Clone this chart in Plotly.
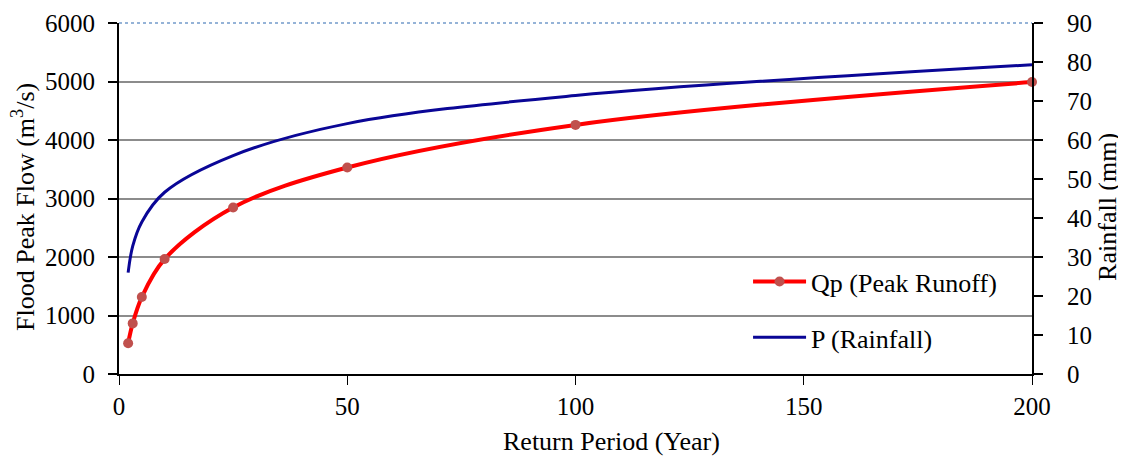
import plotly.graph_objects as go

return_period = [2, 3, 5, 10, 25, 50, 100, 200]
qp_peak_runoff = [525, 865, 1315, 1965, 2845, 3530, 4258, 4990]
p_rainfall = [26.0, 32.8, 39.0, 46.6, 56.0, 64.2, 71.4, 79.3]

qp_name = "Qp (Peak Runoff)"
p_name = "P (Rainfall)"
x_title = "Return Period (Year)"
y_title = "Flood Peak Flow (m<sup>3</sup>/s)"
y2_title = "Rainfall (mm)"

FONT = "Liberation Serif, Times New Roman, serif"
tick_fnt = dict(family=FONT, size=25, color="black")
legend_fnt = dict(family=FONT, size=26, color="black")
title_fnt = dict(family=FONT, size=26, color="black")

fig = go.Figure()
fig.add_trace(go.Scatter(
    x=return_period, y=qp_peak_runoff, name=qp_name, mode="lines+markers",
    line=dict(color="#FF0000", width=4, shape="spline", smoothing=1.0),
    marker=dict(color="#C0504D", size=10), cliponaxis=False,
    legendgroup="a", yaxis="y",
))
fig.add_trace(go.Scatter(
    x=return_period, y=p_rainfall, name=p_name, mode="lines",
    line=dict(color="#0A0696", width=3, shape="spline", smoothing=1.0),
    cliponaxis=False,
    legendgroup="b", yaxis="y2",
))

# page body adds an 8px margin, so the figure is 8px smaller in each direction
fig.update_layout(
    width=1118, height=448,
    margin=dict(l=111, r=94, t=15, b=82),
    paper_bgcolor="white", plot_bgcolor="white",
    font=legend_fnt,
    showlegend=True,
    legend=dict(x=0.689, y=0.33, xanchor="left", yanchor="top",
                bgcolor="rgba(0,0,0,0)", traceorder="grouped",
                tracegroupgap=19, itemwidth=53, font=legend_fnt),
    xaxis=dict(
        range=[0, 200], tickvals=[0, 50, 100, 150, 200],
        showgrid=False, zeroline=False, automargin=False,
        showline=True, linecolor="black", linewidth=2,
        ticks="outside", ticklen=9, tickcolor="black", tickwidth=1,
        tickfont=tick_fnt,
    ),
    yaxis=dict(
        range=[0, 6000], tickvals=[0, 1000, 2000, 3000, 4000, 5000, 6000],
        showgrid=True, gridcolor="#8C8C8C", gridwidth=1.5, zeroline=False,
        automargin=False,
        showline=True, linecolor="black", linewidth=2,
        ticks="outside", ticklen=9, tickcolor="black", tickwidth=2,
        ticklabelstandoff=8, tickfont=tick_fnt,
    ),
    yaxis2=dict(
        range=[0, 90], tickvals=[0, 10, 20, 30, 40, 50, 60, 70, 80, 90],
        overlaying="y", side="right", automargin=False,
        showgrid=False, zeroline=False,
        showline=True, linecolor="black", linewidth=2,
        ticks="outside", ticklen=9, tickcolor="black", tickwidth=2,
        ticklabelstandoff=19, tickfont=tick_fnt,
    ),
    annotations=[
        dict(text=x_title, xref="paper", yref="paper", x=0.539, y=-0.191,
             xanchor="center", yanchor="middle", showarrow=False, font=title_fnt),
        dict(text=y_title, xref="paper", yref="paper", x=-0.104, y=0.476,
             xanchor="center", yanchor="middle", textangle=-90, showarrow=False,
             font=title_fnt),
        dict(text=y2_title, xref="paper", yref="paper", x=1.0832, y=0.476,
             xanchor="center", yanchor="middle", textangle=-90, showarrow=False,
             font=title_fnt),
    ],
    shapes=[dict(type="line", xref="paper", yref="paper", x0=0, x1=1, y0=1, y1=1,
                 line=dict(color="#95B3D7", width=2, dash="dot"), layer="below")],
)

fig.write_html("out.html")
